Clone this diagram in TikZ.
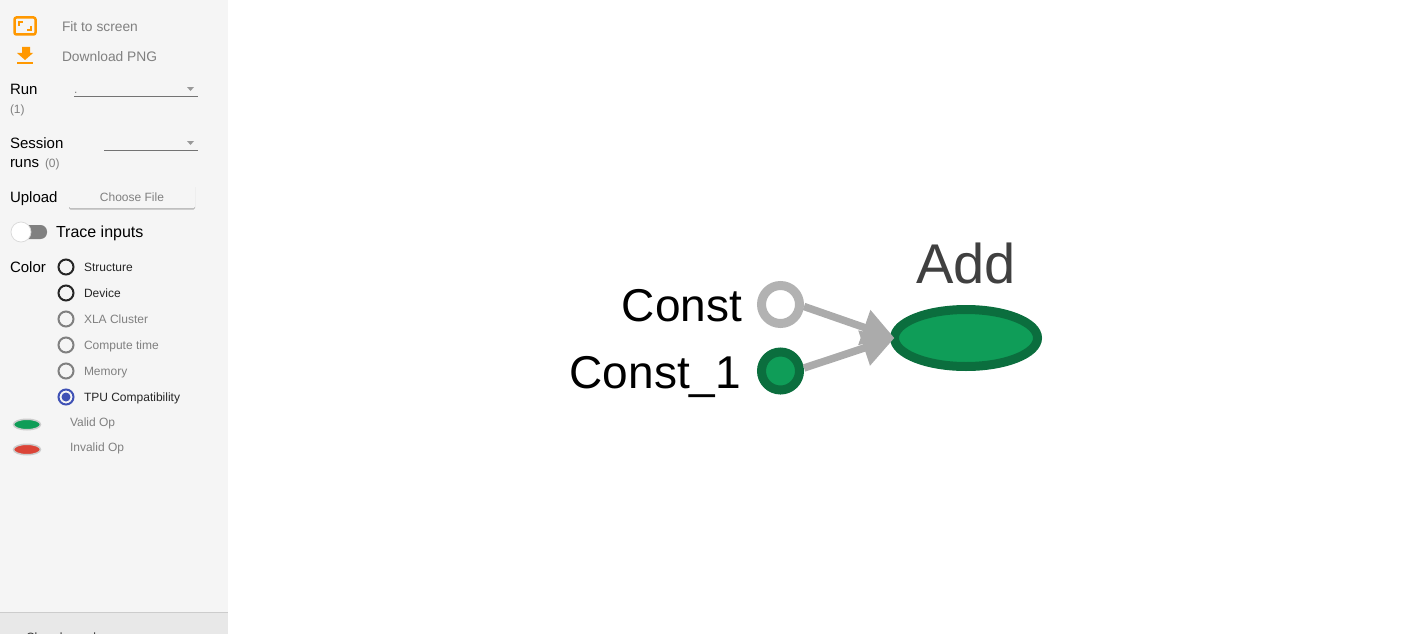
\documentclass[tikz,border=0pt]{standalone}
\usepackage{fontspec}
\setmainfont{Liberation Sans}
\usetikzlibrary{arrows.meta,shapes.geometric}

\definecolor{panelgray}{HTML}{F5F5F5}
\definecolor{footgray}{HTML}{E8E8E8}
\definecolor{opgreen}{HTML}{0F9D58}
\definecolor{opgreendark}{HTML}{0B6E3E}
\definecolor{opred}{HTML}{DB4437}
\definecolor{iconorange}{HTML}{FF9800}
\definecolor{radioblue}{HTML}{3F51B5}
\definecolor{textgray}{HTML}{808080}

\begin{document}
\begin{tikzpicture}[x=1pt,y=-1pt,>={Triangle[length=32pt,width=35pt]}]
\tikzstyle{every node}=[inner sep=0pt,outer sep=0pt,text=black]
\tikzstyle{lbl}=[anchor=base west,font=\fontsize{15}{18}\selectfont]
\tikzstyle{tool}=[anchor=base west,font=\fontsize{13.8}{17}\selectfont,text=textgray]
\tikzstyle{small}=[anchor=base west,font=\fontsize{12}{14}\selectfont,text=textgray]
\tikzstyle{optext}=[anchor=base west,font=\fontsize{12}{14}\selectfont,text=black!85]
\tikzstyle{radio}=[circle,draw=black!85,line width=2pt,minimum size=15pt]
\tikzstyle{radiooff}=[circle,draw=textgray,line width=2pt,minimum size=15pt]
\tikzstyle{legendop}=[ellipse,draw=black!20,line width=1.5pt,minimum width=27pt,minimum height=10.5pt]
\tikzstyle{ruleline}=[draw=black!55,line width=1pt]
\tikzstyle{opdot}=[circle,line width=9pt,minimum size=38pt,outer sep=4.5pt]
\tikzstyle{flow}=[->,color=black!33,line width=7.5pt]

\useasboundingbox (0,0) rectangle (1416,634);
\fill[panelgray] (0,0) rectangle (228,634);
\fill[footgray] (0,612) rectangle (228,634);
\draw[black!20,line width=1pt] (0,612.5) -- (228,612.5);

% toolbar
\draw[iconorange,line width=2.5pt,rounded corners=2pt] (14.5,17.5) rectangle (35.5,34.5);
\draw[iconorange,line width=2pt] (19,26) -- (19,22) -- (23,22) (31,26) -- (31,30) -- (27,30);
\fill[iconorange] (22,47) -- (30,47) -- (30,53) -- (33,53) -- (25,60) -- (17,53) -- (22,53) -- cycle;
\fill[iconorange] (17,62) rectangle (33,64.5);
\node[tool] (fit) at (62,32) {Fit to screen};
\node[tool] (png) at (62,62) {Download PNG};

% selectors
\node[lbl] (run) at (10,94) {Run};
\node[small] (runcount) at (10,113) {(1)};
\node[small] (rundot) at (74,93) {.};
\draw[ruleline] (74,96.5) -- (198,96.5);
\fill[black!40] (187,87) -- (194,87) -- (190.5,91) -- cycle;
\node[lbl] (session) at (10,148) {Session};
\node[lbl] (runs) at (10,167) {runs};
\node[small] (sessioncount) at (45,167) {(0)};
\draw[ruleline] (104,150.5) -- (198,150.5);
\fill[black!40] (187,141) -- (194,141) -- (190.5,145) -- cycle;
\node[lbl] (upload) at (10,202) {Upload};
\fill[black!28,rounded corners=1.5pt] (69,186) rectangle (195,209.5);
\fill[panelgray,rounded corners=1.5pt] (69,183) rectangle (195,208);
\node[font=\fontsize{12}{14}\selectfont,text=textgray] (choose) at (132,197.5) {Choose File};

% toggle
\fill[black!50,rounded corners=6.5pt] (14,225) rectangle (47,239);
\node[circle,fill=white,draw=black!15,line width=0.7pt,minimum size=20pt] (knob) at (21,232) {};
\node[lbl,font=\fontsize{16}{18}\selectfont] (trace) at (56,237) {Trace inputs};

% colour choices
\node[lbl] (color) at (10,272) {Color};
\node[radio] (r1) at (66,267) {};
\node[radio] (r2) at (66,293) {};
\node[radiooff] (r3) at (66,319) {};
\node[radiooff] (r4) at (66,345) {};
\node[radiooff] (r5) at (66,371) {};
\node[circle,draw=radioblue,line width=2pt,minimum size=15pt] (r6) at (66,397) {};
\fill[radioblue] (r6.center) circle (4.5pt);
\node[optext] (t1) at (84,271) {Structure};
\node[optext] (t2) at (84,297) {Device};
\node[small] (t3) at (84,323) {XLA Cluster};
\node[small] (t4) at (84,349) {Compute time};
\node[small] (t5) at (84,375) {Memory};
\node[optext] (t6) at (84,401) {TPU Compatibility};
\node[legendop,fill=opgreen] (valid) at (27,424.5) {};
\node[legendop,fill=opred] (invalid) at (27,449.5) {};
\node[small] (validtext) at (70,426) {Valid Op};
\node[small] (invalidtext) at (70,451) {Invalid Op};
\node[small,text=black!80] (closing) at (26,641) {Close legend.};

% graph
\node[opdot,draw=black!30,fill=white] (const) at (780.5,304.5) {};
\node[opdot,draw=opgreendark,fill=opgreen] (const1) at (780.5,371) {};
\node[ellipse,draw=opgreendark,fill=opgreen,line width=9pt,minimum width=143pt,minimum height=57pt] (add) at (966,338) {};
\node[anchor=base east,font=\fontsize{46}{50}\selectfont] (constlabel) at (742,321) {Const};
\node[anchor=base east,font=\fontsize{46}{50}\selectfont] (const1label) at (741,388) {Const\_1};
\node[anchor=base,font=\fontsize{56}{60}\selectfont,text=black!75] (addlabel) at (966,283) {Add};

\path[flow] ([yshift=-2pt]const.east) edge (add.west);
\path[flow] ([yshift=3pt]const1.east) edge (add.west);

\end{tikzpicture}
\end{document}
